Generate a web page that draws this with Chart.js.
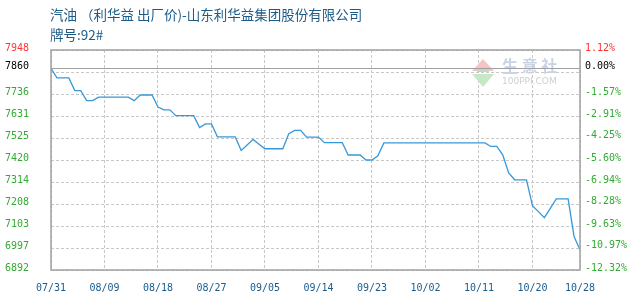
<!DOCTYPE html>
<html>
<head>
<meta charset="utf-8">
<script src="https://cdn.jsdelivr.net/npm/chart.js@4.4.0/dist/chart.umd.min.js"></script>
<style>
  html, body { margin: 0; padding: 0; background: #fff; }
  #wrap { position: relative; width: 630px; height: 300px; }
  canvas { position: absolute; left: 0; top: 0; }
  .title { position: absolute; left: 50px; font-family: "Noto Sans CJK SC", sans-serif; font-size: 13.5px; line-height: 16px; color: #1d5b87; white-space: nowrap; }
</style>
</head>
<body>
<div id="wrap">
  <canvas id="chart" width="630" height="300"></canvas>
  <div class="title" style="top:6px">汽油 （利华益 出厂价)-山东利华益集团股份有限公司</div>
  <div class="title" style="top:26px">牌号:92#</div>
</div>
<script>
/** Day index of each labelled date (07/31 = day 0). */
const xTickDays = [0, 9, 18, 27, 36, 45, 54, 63, 72, 81, 89];
const xTickLabels = ['07/31', '08/09', '08/18', '08/27', '09/05', '09/14', '09/23', '10/02', '10/11', '10/20', '10/28'];

/** Daily ex-factory price, 07/31 .. 10/28. */
const prices = [
  7860, 7814, 7814, 7814, 7753, 7753, 7705, 7705, 7722, 7722,
  7722, 7722, 7722, 7722, 7705, 7732, 7732, 7732, 7674, 7661,
  7661, 7633, 7633, 7633, 7633, 7576, 7593, 7593, 7531, 7531,
  7531, 7531, 7466, 7492, 7519, 7496, 7474, 7474, 7474, 7474,
  7546, 7562, 7562, 7530, 7530, 7530, 7503, 7503, 7503, 7503,
  7444, 7444, 7444, 7420, 7420, 7440, 7502, 7502, 7502, 7502,
  7502, 7502, 7502, 7502, 7502, 7502, 7502, 7502, 7502, 7502,
  7502, 7502, 7502, 7502, 7485, 7485, 7445, 7358, 7325, 7325,
  7325, 7201, 7172, 7143, 7188, 7233, 7233, 7233, 7053, 6989
];

/** Reference price (0.00%). */
const basePrice = 7860;

/** Left axis ticks. */
const leftTicks = [6892, 6997, 7103, 7208, 7314, 7420, 7525, 7631, 7736, 7842, 7860, 7948];
const leftLabels = ['6892', '6997', '7103', '7208', '7314', '7420', '7525', '7631', '7736', '', '7860', '7948'];

/** Right axis ticks (percent change from base). */
const rightTicks = [-12.32, -10.97, -9.63, -8.28, -6.94, -5.60, -4.25, -2.91, -1.57, 0, 1.12];
const rightLabels = ['-12.32%', '-10.97%', '-9.63%', '-8.28%', '-6.94%', '-5.60%', '-4.25%', '-2.91%', '-1.57%', '0.00%', '1.12%'];

const tickFont = { family: 'DejaVu Sans Mono', size: 10 };

/** Frame, base line and watermark. */
const framePlugin = {
  id: 'frame',
  beforeDatasetsDraw(chart) {
    const { ctx, chartArea: a, scales } = chart;
    ctx.save();

    /** Watermark. */
    const wx = a.right - 108;
    const wy = a.top + 8;
    ctx.fillStyle = '#f6c4c4';
    ctx.beginPath();
    ctx.moveTo(wx, wy + 13);
    ctx.lineTo(wx + 11, wy + 1);
    ctx.lineTo(wx + 22, wy + 13);
    ctx.closePath();
    ctx.fill();
    ctx.fillStyle = '#c6e8c6';
    ctx.beginPath();
    ctx.moveTo(wx, wy + 16);
    ctx.lineTo(wx + 22, wy + 16);
    ctx.lineTo(wx + 11, wy + 29);
    ctx.closePath();
    ctx.fill();
    ctx.fillStyle = '#d0d0d0';
    ctx.fillRect(wx + 5, wy + 10, 12, 4);
    ctx.fillStyle = '#c9d3e3';
    ctx.font = 'bold 16px "Noto Sans CJK SC"';
    ctx.textBaseline = 'alphabetic';
    ctx.fillText('生 意 社', wx + 30, wy + 14);
    ctx.fillStyle = '#cfcfcf';
    ctx.font = '9px "DejaVu Sans"';
    ctx.fillText('100PPI.COM', wx + 30, wy + 26);

    /** Base price line. */
    const yb = Math.round(scales.y.getPixelForValue(basePrice)) + 0.5;
    ctx.strokeStyle = '#a0a0a0';
    ctx.lineWidth = 1;
    ctx.beginPath();
    ctx.moveTo(a.left, yb);
    ctx.lineTo(a.right, yb);
    ctx.stroke();
    ctx.restore();
  },
  afterDatasetsDraw(chart) {
    const { ctx, chartArea: a } = chart;
    ctx.save();
    ctx.strokeStyle = '#a0a0a0';
    ctx.lineWidth = 1.5;
    ctx.strokeRect(Math.round(a.left), Math.round(a.top), Math.round(a.right - a.left), Math.round(a.bottom - a.top));
    ctx.restore();
  }
};

const config = {
  type: 'line',
  data: {
    datasets: [
      {
        label: '出厂价',
        data: prices.map((v, i) => ({ x: i, y: v })),
        borderColor: '#3798da',
        borderWidth: 1.3,
        pointRadius: 0,
        tension: 0,
        fill: false,
        yAxisID: 'y',
      },
    ],
  },
  options: {
    responsive: false,
    animation: false,
    layout: { padding: { top: 50, left: 0, right: 0, bottom: 0 } },
    plugins: { legend: { display: false }, tooltip: { enabled: false } },
    scales: {
      x: {
        type: 'linear',
        min: 0,
        max: 89,
        afterBuildTicks: (s) => { s.ticks = xTickDays.map((v) => ({ value: v })); },
        afterFit: (s) => { s.height = 30; },
        grid: { color: '#c8c8c8', lineWidth: 1, drawTicks: false },
        border: { display: false, dash: [3, 2] },
        ticks: {
          autoSkip: false,
          maxRotation: 0,
          padding: 12,
          color: '#1a5c8e',
          font: tickFont,
          callback: (v) => xTickLabels[xTickDays.indexOf(v)],
        },
      },
      y: {
        type: 'linear',
        position: 'left',
        min: 6892,
        max: 7948,
        afterBuildTicks: (s) => { s.ticks = leftTicks.map((v) => ({ value: v })); },
        afterFit: (s) => { s.width = 51; },
        grid: {
          color: (c) => (c.tick && c.tick.value === basePrice ? 'rgba(0,0,0,0)' : '#c8c8c8'),
          drawTicks: false,
        },
        border: { display: false, dash: [3, 2] },
        ticks: {
          autoSkip: false,
          padding: 22,
          labelOffset: -2,
          font: tickFont,
          color: (c) => (c.tick.value === 7948 ? '#ff3333' : c.tick.value === basePrice ? '#000000' : '#33aa33'),
          callback: (v) => leftLabels[leftTicks.indexOf(v)],
        },
      },
      y2: {
        type: 'linear',
        position: 'right',
        min: -12.32,
        max: 1.12,
        afterBuildTicks: (s) => { s.ticks = rightTicks.map((v) => ({ value: v })); },
        afterFit: (s) => { s.width = 50; },
        grid: { drawOnChartArea: false, drawTicks: false },
        border: { display: false },
        ticks: {
          autoSkip: false,
          padding: 5,
          labelOffset: -2,
          font: tickFont,
          color: (c) => (c.tick.value === 1.12 ? '#ff3333' : c.tick.value === 0 ? '#000000' : '#33aa33'),
          callback: (v) => rightLabels[rightTicks.indexOf(v)],
        },
      },
    },
  },
  plugins: [framePlugin],
};

new Chart(document.getElementById('chart').getContext('2d'), config);
</script>
</body>
</html>
